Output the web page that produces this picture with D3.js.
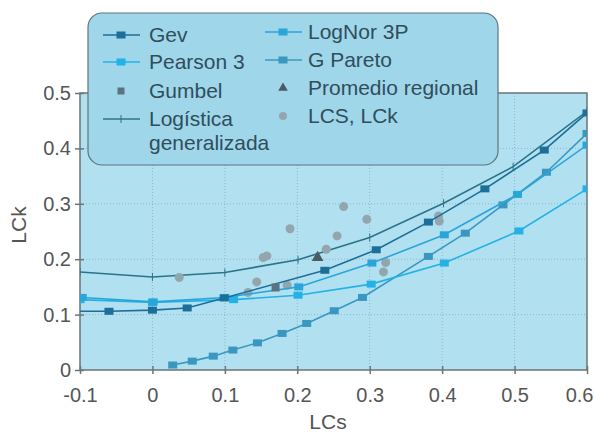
<!DOCTYPE html>
<html>
<head>
<meta charset="utf-8">
<script src="https://cdn.jsdelivr.net/npm/d3@7"></script>
<style>
  body { margin: 0; background: #fff; }
  text { font-family: "Liberation Sans", Arial, sans-serif; }
</style>
</head>
<body>
<div id="chart"></div>
<script>
"use strict";

// values: [LCs, LCk]
var gev = [[-0.1, 0.106], [-0.06, 0.106], [0.0, 0.108], [0.048, 0.112], [0.099, 0.13], [0.238, 0.18],
           [0.309, 0.217], [0.381, 0.267], [0.459, 0.327], [0.541, 0.397], [0.6, 0.464]];
var pearson3 = [[-0.1, 0.127], [0.0, 0.122], [0.112, 0.127], [0.201, 0.135], [0.302, 0.155],
                [0.403, 0.193], [0.506, 0.251], [0.6, 0.327]];
var logNor = [[-0.097, 0.131], [0.001, 0.123], [0.1, 0.131], [0.202, 0.150], [0.303, 0.193],
              [0.403, 0.244], [0.504, 0.317], [0.6, 0.406]];
var gPareto = [[0.028, 0.009], [0.055, 0.016], [0.084, 0.025], [0.111, 0.036], [0.145, 0.049],
               [0.179, 0.066], [0.213, 0.084], [0.251, 0.107], [0.29, 0.131], [0.381, 0.205],
               [0.432, 0.247], [0.484, 0.298], [0.544, 0.357], [0.6, 0.427]];
var logistica = [[-0.1, 0.177], [0.0, 0.168], [0.1, 0.176], [0.201, 0.199], [0.3, 0.239],
                 [0.402, 0.301], [0.498, 0.367], [0.6, 0.467]];
var gumbel = [[0.17, 0.149]];
var promedio = [[0.228, 0.203]];
var lcsLck = [[0.037, 0.167], [0.132, 0.14], [0.144, 0.159], [0.153, 0.203], [0.158, 0.206],
              [0.186, 0.153], [0.19, 0.255], [0.24, 0.218], [0.255, 0.242], [0.264, 0.295],
              [0.296, 0.272], [0.319, 0.177], [0.322, 0.194], [0.395, 0.278], [0.396, 0.269]];

var xTicks = [-0.1, 0, 0.1, 0.2, 0.3, 0.4, 0.5, 0.6];
var yTicks = [0, 0.1, 0.2, 0.3, 0.4, 0.5];

var width = 594, height = 433;
var svg = d3.select("#chart").append("svg")
            .attr("width", width).attr("height", height);

var x = d3.scaleLinear().domain([-0.1, 0.6]).range([80, 587]);
var y = d3.scaleLinear().domain([0, 0.5]).range([370, 93]);

var fmt = function(d){ return d === 0 ? "0" : d3.format(".1f")(d).replace("\u2212", "-"); };

// plot background
svg.append("rect")
   .attr("x", x(-0.1)).attr("y", y(0.5))
   .attr("width", x(0.6) - x(-0.1)).attr("height", y(0) - y(0.5))
   .style("fill", "#b1e0f1");

svg.append("clipPath").attr("id", "clip")
   .append("rect")
   .attr("x", x(-0.1)).attr("y", y(0.5))
   .attr("width", x(0.6) - x(-0.1)).attr("height", y(0) - y(0.5));

// dotted grid
svg.selectAll(".gx").data(xTicks.slice(1, -1)).enter().append("line")
   .attr("x1", function(d){ return x(d); }).attr("x2", function(d){ return x(d); })
   .attr("y1", y(0)).attr("y2", y(0.5))
   .style("stroke", "#8fb7c6").style("stroke-width", 1).style("stroke-dasharray", "1,2");
svg.selectAll(".gy").data(yTicks.slice(1, -1)).enter().append("line")
   .attr("y1", function(d){ return y(d); }).attr("y2", function(d){ return y(d); })
   .attr("x1", x(-0.1)).attr("x2", x(0.6))
   .style("stroke", "#8fb7c6").style("stroke-width", 1).style("stroke-dasharray", "1,2");

// frame
svg.append("rect")
   .attr("x", x(-0.1)).attr("y", y(0.5))
   .attr("width", x(0.6) - x(-0.1)).attr("height", y(0) - y(0.5))
   .style("fill", "none").style("stroke", "#6b7477").style("stroke-width", 1.5);

// axes
var xAxis = d3.axisBottom(x).tickValues(xTicks).tickSize(0).tickPadding(18).tickFormat(fmt);
var yAxis = d3.axisLeft(y).tickValues(yTicks).tickSize(0).tickPadding(9).tickFormat(fmt);

var gx = svg.append("g").attr("transform", "translate(0," + y(0) + ")").call(xAxis);
var gy = svg.append("g").attr("transform", "translate(" + x(-0.1) + ",0)").call(yAxis);
[gx, gy].forEach(function(g){
  g.select(".domain").remove();
  g.selectAll("text").style("font-size", "20px").style("fill", "#555")
   .style("font-family", "'Liberation Sans', Arial, sans-serif");
});
// last x label sits against the picture edge
gx.selectAll(".tick text").filter(function(d){ return d === 0.6; })
  .attr("text-anchor", "end").attr("x", 6);
gx.selectAll(".tick").append("line").attr("y1", -4).attr("y2", 4)
  .style("stroke", "#6b7477").style("stroke-width", 1.5);
gy.selectAll(".tick").append("line").attr("x1", -5).attr("x2", 4)
  .style("stroke", "#6b7477").style("stroke-width", 1.5);

svg.append("text").text("LCs")
   .attr("x", 328).attr("y", 429).attr("text-anchor", "middle")
   .style("font-size", "21px").style("fill", "#555");
svg.append("text").text("LCk")
   .attr("transform", "translate(26,225) rotate(-90)").attr("text-anchor", "middle")
   .style("font-size", "21px").style("fill", "#555");

// == SERIES ==
var line = d3.line().x(function(d){ return x(d[0]); }).y(function(d){ return y(d[1]); });
var plot = svg.append("g").attr("clip-path", "url(#clip)");

var squareSeries = [
  { data: gPareto, color: "#3a98c0", skipFirst: false },
  { data: pearson3, color: "#22b2e6", skipFirst: false },
  { data: logNor, color: "#2aa5da", skipFirst: false },
  { data: gev, color: "#1c6f98", skipFirst: true }
];

plot.append("path").datum(logistica).attr("d", line)
    .style("fill", "none").style("stroke", "#2b7487").style("stroke-width", 1.6);
plot.selectAll(".glo").data(logistica).enter().append("line")
    .attr("x1", function(d){ return x(d[0]); }).attr("x2", function(d){ return x(d[0]); })
    .attr("y1", function(d){ return y(d[1]) - 4; }).attr("y2", function(d){ return y(d[1]) + 4; })
    .style("stroke", "#2b7487").style("stroke-width", 1);

// LCS, LCk dots
plot.selectAll(".dot").data(lcsLck).enter().append("circle")
    .attr("cx", function(d){ return x(d[0]); }).attr("cy", function(d){ return y(d[1]); })
    .attr("r", 4.5).style("fill", "#93a6ae");

squareSeries.forEach(function(s){
  plot.append("path").datum(s.data).attr("d", line)
      .style("fill", "none").style("stroke", s.color).style("stroke-width", 1.6);
  var marks = s.skipFirst ? s.data.slice(1) : s.data;
  plot.selectAll(null).data(marks).enter().append("rect")
      .attr("x", function(d){ return x(d[0]) - 4.5; }).attr("y", function(d){ return y(d[1]) - 3.5; })
      .attr("width", 9).attr("height", 7).style("fill", s.color);
});

plot.selectAll(".gum").data(gumbel).enter().append("rect")
    .attr("x", function(d){ return x(d[0]) - 4; }).attr("y", function(d){ return y(d[1]) - 4; })
    .attr("width", 8).attr("height", 8).style("fill", "#5b7380");

plot.selectAll(".tri").data(promedio).enter().append("path")
    .attr("d", d3.symbol().type(d3.symbolTriangle).size(60))
    .attr("transform", function(d){ return "translate(" + x(d[0]) + "," + y(d[1]) + ")"; })
    .style("fill", "#4c5a62");

// == LEGEND ==
var leg = svg.append("g");
leg.append("rect").attr("x", 88).attr("y", 13).attr("width", 410).attr("height", 152)
   .attr("rx", 14).style("fill", "#9fd6ea").style("stroke", "#5f7479").style("stroke-width", 1.2);

var legendItems = [
  { label: ["Gev"], kind: "sq", color: "#1c6f98", lx: 103, tx: 149, ly: 35 },
  { label: ["Pearson 3"], kind: "sq", color: "#22b2e6", lx: 103, tx: 149, ly: 62 },
  { label: ["Gumbel"], kind: "gum", color: "#5b7380", lx: 103, tx: 149, ly: 91 },
  { label: ["Logística", "generalizada"], kind: "plus", color: "#2b7487", lx: 103, tx: 149, ly: 119 },
  { label: ["LogNor 3P"], kind: "sq", color: "#2aa5da", lx: 265, tx: 308, ly: 32 },
  { label: ["G Pareto"], kind: "sq", color: "#3a98c0", lx: 265, tx: 308, ly: 60 },
  { label: ["Promedio regional"], kind: "tri", color: "#4c5a62", lx: 265, tx: 308, ly: 88 },
  { label: ["LCS, LCk"], kind: "dot", color: "#93a6ae", lx: 265, tx: 308, ly: 116 }
];

legendItems.forEach(function(it){
  var cx = it.lx + 18;
  if (it.kind === "sq" || it.kind === "plus") {
    leg.append("line").attr("x1", it.lx).attr("x2", it.lx + 37).attr("y1", it.ly).attr("y2", it.ly)
       .style("stroke", it.color).style("stroke-width", 1.6);
  }
  if (it.kind === "sq") {
    leg.append("rect").attr("x", cx - 4.5).attr("y", it.ly - 3.5).attr("width", 9).attr("height", 7)
       .style("fill", it.color);
  } else if (it.kind === "plus") {
    leg.append("line").attr("x1", cx).attr("x2", cx).attr("y1", it.ly - 4).attr("y2", it.ly + 4)
       .style("stroke", it.color).style("stroke-width", 1);
  } else if (it.kind === "gum") {
    leg.append("rect").attr("x", cx - 3.5).attr("y", it.ly - 3.5).attr("width", 7).attr("height", 7)
       .style("fill", it.color);
  } else if (it.kind === "tri") {
    leg.append("path").attr("d", d3.symbol().type(d3.symbolTriangle).size(40))
       .attr("transform", "translate(" + cx + "," + it.ly + ")").style("fill", it.color);
  } else {
    leg.append("circle").attr("cx", cx).attr("cy", it.ly).attr("r", 4).style("fill", it.color);
  }
  it.label.forEach(function(t, i){
    leg.append("text").text(t).attr("x", it.tx).attr("y", it.ly + 7 + i * 24)
       .style("font-size", "21px").style("fill", "#2f4e5a");
  });
});
</script>
</body>
</html>
